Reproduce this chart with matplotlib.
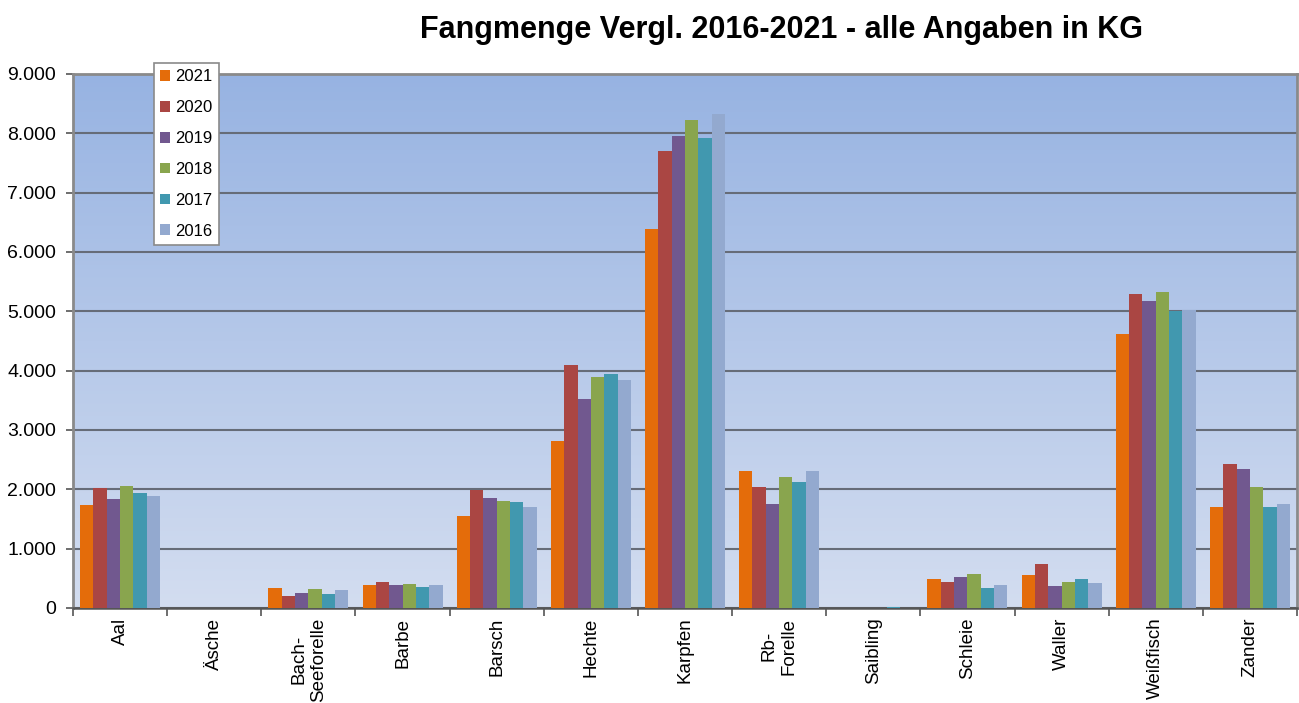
import numpy as np
import matplotlib.pyplot as plt
from matplotlib.colors import LinearSegmentedColormap

plt.rcParams['font.family'] = ['Liberation Sans', 'DejaVu Sans']

fish = ["Aal", "Äsche", "Bach-\nSeeforelle", "Barbe", "Barsch", "Hechte", "Karpfen",
        "Rb-\nForelle", "Saibling", "Schleie", "Waller", "Weißfisch", "Zander"]
years = ["2021", "2020", "2019", "2018", "2017", "2016"]

kg_2021 = [1740, 8, 330, 390, 1550, 2820, 6380, 2310, 5, 490, 550, 4620, 1700]
kg_2020 = [2030, 8, 210, 430, 1990, 4090, 7700, 2040, 8, 430, 750, 5300, 2430]
kg_2019 = [1840, 8, 250, 390, 1850, 3530, 7950, 1750, 5, 530, 370, 5180, 2350]
kg_2018 = [2060, 8, 320, 400, 1800, 3890, 8230, 2200, 5, 570, 440, 5320, 2040]
kg_2017 = [1930, 8, 230, 360, 1780, 3940, 7920, 2120, 20, 340, 490, 5000, 1710]
kg_2016 = [1880, 8, 300, 380, 1700, 3840, 8320, 2310, 8, 390, 420, 5030, 1750]
series = [kg_2021, kg_2020, kg_2019, kg_2018, kg_2017, kg_2016]

colors = ["#E46C0A", "#AA4643", "#71588F", "#89A54E", "#4198AF", "#93A9CF"]

fig = plt.figure(figsize=(12.99, 7.03), dpi=100)
ax = fig.add_axes([73 / 1299, 95 / 703, 1224 / 1299, 534 / 703])

# background gradient
cmap = LinearSegmentedColormap.from_list("bg", ["#D3DDF0", "#97B3E2"])
grad = np.linspace(0, 1, 256).reshape(-1, 1)
ax.imshow(grad, extent=[0, 1, 0, 1], transform=ax.transAxes, aspect='auto',
          cmap=cmap, origin='lower', zorder=0)

x = np.arange(len(fish))
group = 0.85
w = group / len(series)
for i, (vals, yr, c) in enumerate(zip(series, years, colors)):
    ax.bar(x - group / 2 + w * (i + 0.5), vals, width=w, color=c, label=yr,
           linewidth=0, zorder=3)

ax.set_xlim(-0.5, len(fish) - 0.5)
ax.set_ylim(0, 9000)
ax.set_yticks(range(0, 9001, 1000))
ax.set_yticklabels(["0"] + [f"{v // 1000}.000" for v in range(1000, 9001, 1000)], fontsize=14)
ax.yaxis.grid(True, color="#666c78", linewidth=1.5, zorder=1)
ax.set_axisbelow(True)

ax.set_xticks(x)
ax.set_xticklabels(fish, rotation=90, fontsize=13.5)
ax.set_xticks(np.arange(-0.5, len(fish)), minor=True)
ax.tick_params(axis='x', which='major', length=0, pad=7)
ax.tick_params(axis='x', which='minor', length=6, width=1.2, color="#555555")
ax.tick_params(axis='y', length=5, width=1.2, color="#555555", pad=7)

for side in ["top", "right", "left"]:
    ax.spines[side].set_color("#8a8a8a")
    ax.spines[side].set_linewidth(2)
ax.spines["bottom"].set_color("#555555")
ax.spines["bottom"].set_linewidth(1.8)

leg = ax.legend(loc="upper left", bbox_to_anchor=(0.066, 1.021), fontsize=12,
                frameon=True, fancybox=False, framealpha=1, borderpad=0.4,
                labelspacing=0.95, handlelength=0.6, handleheight=0.6,
                handletextpad=0.3, borderaxespad=0)
leg.get_frame().set_facecolor("white")
leg.get_frame().set_edgecolor("#8a8a8a")
leg.get_frame().set_linewidth(1.2)
leg.set_zorder(5)

fig.text(0.602, 0.958, "Fangmenge Vergl. 2016-2021 - alle Angaben in KG",
         ha="center", va="center", fontsize=22, fontweight="bold")

fig.savefig("out.png", dpi=100)
